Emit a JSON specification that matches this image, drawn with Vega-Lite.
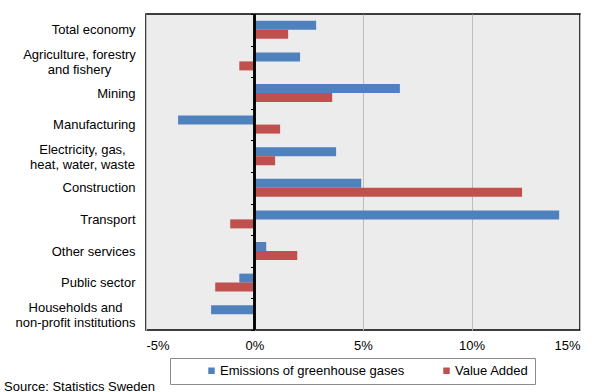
{
  "$schema": "https://vega.github.io/schema/vega-lite/v6.json",
  "width": 434,
  "height": 316,
  "autosize": {"type": "none"},
  "padding": {"left": 146, "top": 14, "right": 24, "bottom": 62},
  "background": "white",
  "config": {
    "font": "Liberation Sans",
    "view": {"fill": "#ECECEC", "stroke": "black", "strokeWidth": 1.5}
  },
  "title": {
    "text": "Source:  Statistics Sweden",
    "orient": "bottom",
    "anchor": "start",
    "frame": "group",
    "dx": -142,
    "offset": -4,
    "fontSize": 13,
    "fontWeight": "normal",
    "color": "black",
    "font": "Liberation Sans"
  },
  "data": {
    "values": [
      {"sector": "Total economy", "series": "Emissions of greenhouse gases", "value": 2.84},
      {"sector": "Total economy", "series": "Value Added", "value": 1.55},
      {"sector": "Agriculture, forestry|and fishery", "series": "Emissions of greenhouse gases", "value": 2.1},
      {"sector": "Agriculture, forestry|and fishery", "series": "Value Added", "value": -0.7},
      {"sector": "Mining", "series": "Emissions of greenhouse gases", "value": 6.7},
      {"sector": "Mining", "series": "Value Added", "value": 3.58},
      {"sector": "Manufacturing", "series": "Emissions of greenhouse gases", "value": -3.52},
      {"sector": "Manufacturing", "series": "Value Added", "value": 1.18},
      {"sector": "Electricity, gas,|heat, water, waste", "series": "Emissions of greenhouse gases", "value": 3.76},
      {"sector": "Electricity, gas,|heat, water, waste", "series": "Value Added", "value": 0.95},
      {"sector": "Construction", "series": "Emissions of greenhouse gases", "value": 4.92},
      {"sector": "Construction", "series": "Value Added", "value": 12.33},
      {"sector": "Transport", "series": "Emissions of greenhouse gases", "value": 14.04},
      {"sector": "Transport", "series": "Value Added", "value": -1.12},
      {"sector": "Other services", "series": "Emissions of greenhouse gases", "value": 0.54},
      {"sector": "Other services", "series": "Value Added", "value": 1.97},
      {"sector": "Public sector", "series": "Emissions of greenhouse gases", "value": -0.7},
      {"sector": "Public sector", "series": "Value Added", "value": -1.81},
      {"sector": "Households and|non-profit institutions", "series": "Emissions of greenhouse gases", "value": -2.0}
    ]
  },
  "layer": [
    {
      "mark": {"type": "bar"},
      "encoding": {
        "y": {
          "field": "sector",
          "type": "nominal",
          "sort": null,
          "scale": {"paddingInner": 0, "paddingOuter": 0},
          "axis": {
            "title": null,
            "orient": "left",
            "domain": false,
            "ticks": false,
            "labelPadding": {
              "condition": [
                {"test": "indexof(datum.value, 'Agriculture') >= 0", "value": 67},
                {"test": "indexof(datum.value, 'Electricity') >= 0", "value": 64},
                {"test": "indexof(datum.value, 'Households') >= 0", "value": 71}
              ],
              "value": 11
            },
            "labelAlign": {
              "condition": {"test": "indexof(datum.value, '|') >= 0", "value": "center"},
              "value": "right"
            },
            "labelOffset": {
              "condition": {"test": "indexof(datum.value, '|') >= 0", "value": -6.5},
              "value": 0.5
            },
            "labelFontSize": 13,
            "labelColor": "black",
            "labelLineHeight": 15,
            "labelLimit": 300,
            "labelExpr": "split(datum.label, '|')"
          }
        },
        "yOffset": {
          "field": "series",
          "type": "nominal",
          "sort": ["Emissions of greenhouse gases", "Value Added"],
          "scale": {"paddingOuter": 0.76, "paddingInner": 0}
        },
        "x": {
          "field": "value",
          "type": "quantitative",
          "scale": {"domain": [-5, 15], "nice": false, "zero": false},
          "axis": {
            "title": null,
            "values": [-5, 0, 5, 10, 15],
            "domain": false,
            "ticks": false,
            "grid": true,
            "gridColor": "#BDBDBD",
            "gridWidth": 1,
            "labelPadding": 9,
            "labelFontSize": 13,
            "labelColor": "black",
            "labelExpr": "datum.value + '%'"
          }
        },
        "color": {
          "field": "series",
          "type": "nominal",
          "sort": ["Emissions of greenhouse gases", "Value Added"],
          "scale": {"domain": ["Emissions of greenhouse gases", "Value Added"], "range": ["#4F81BD", "#C0504D"]},
          "legend": {
            "title": null,
            "orient": "none",
            "direction": "horizontal",
            "legendX": 24,
            "legendY": 344,
            "symbolType": "square",
            "symbolSize": 42,
            "symbolStrokeWidth": 0,
            "symbolOffset": 29,
            "labelFontSize": 13,
            "labelColor": "black",
            "labelOffset": 2,
            "labelLimit": 400,
            "labelExpr": "datum.label == 'Value Added' ? datum.label + '\u00a0\u00a0\u00a0\u00a0\u00a0' : datum.label",
            "columnPadding": 6,
            "padding": 6,
            "strokeColor": "#8C8C8C"
          }
        }
      }
    },
    {
      "mark": {"type": "rule", "color": "black", "strokeWidth": 1.25},
      "encoding": {"x": {"datum": 0}}
    },
    {
      "mark": {"type": "bar", "opacity": 0},
      "encoding": {
        "y": {
          "field": "sector",
          "type": "nominal",
          "sort": null,
          "axis": {
            "title": null,
            "orient": "left",
            "offset": -108.5,
            "labels": false,
            "domain": false,
            "ticks": true,
            "tickBand": "extent",
            "tickSize": 4,
            "tickColor": "black",
            "tickWidth": 1
          }
        },
        "x": {"field": "value", "type": "quantitative"}
      }
    }
  ],
  "resolve": {"axis": {"y": "independent"}}
}
